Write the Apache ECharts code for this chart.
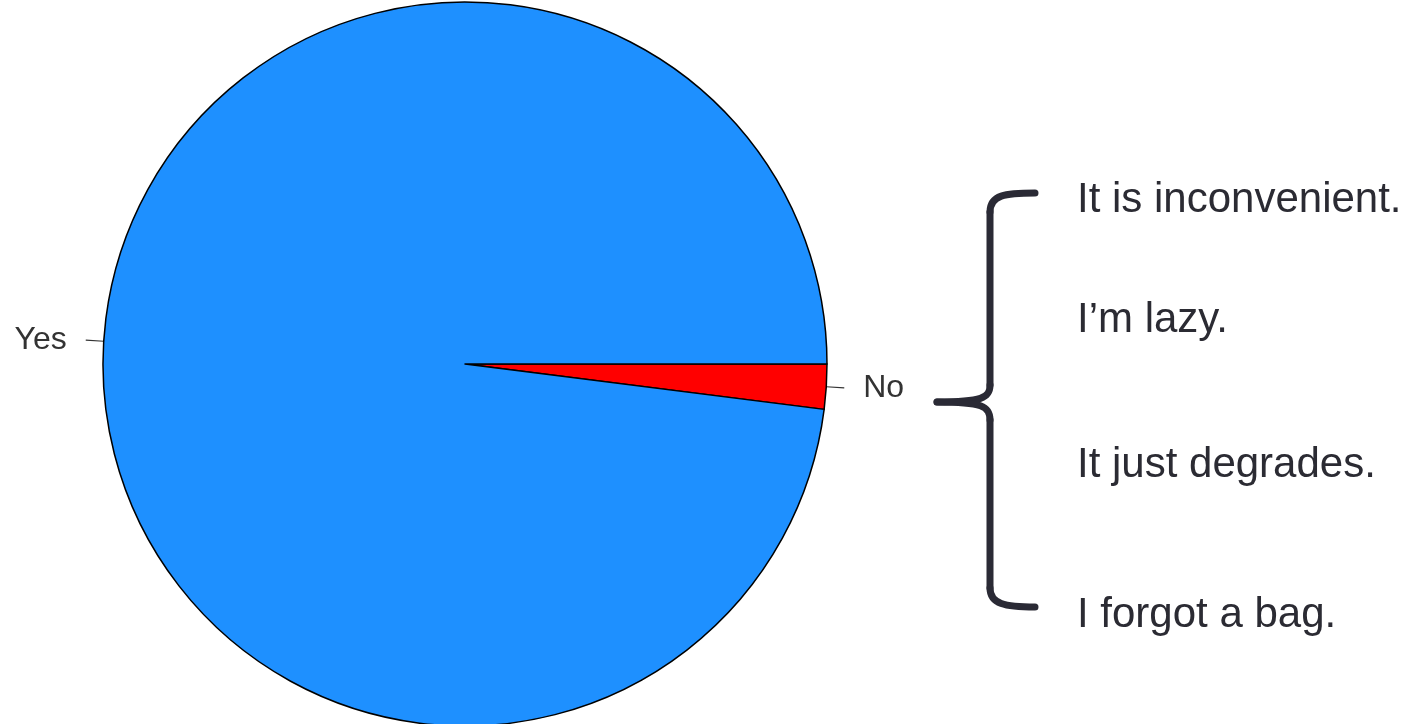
<!DOCTYPE html>
<html>
<head>
<meta charset="utf-8">
<script src="https://cdn.jsdelivr.net/npm/echarts@6/dist/echarts.min.js"></script>
<style>
html,body{margin:0;padding:0;background:#fff;}
#chart{width:1412px;height:724px;}
</style>
</head>
<body>
<div id="chart"></div>
<script>
// Data
var categories = ['No', 'Yes'];
var values = [2, 98];
var sliceColors = ['#ff0000', '#1e90ff'];
var reasons = ['It is inconvenient.', 'I\u2019m lazy.', 'It just degrades.', 'I forgot a bag.'];
var reasonBaselines = [213, 333, 478, 628];

var chart = echarts.init(document.getElementById('chart'), null, {renderer: 'canvas'});

var pieData = categories.map(function (c, i) {
  return {name: c, value: values[i], itemStyle: {color: sliceColors[i]}};
});

var braceStyle = {fill: 'none', stroke: '#2a2a35', lineWidth: 7, lineCap: 'round'};
var graphics = [
  {type: 'bezierCurve', shape: {x1: 1035, y1: 193, cpx1: 1005, cpy1: 193, cpx2: 990, cpy2: 195, x2: 990, y2: 212}, style: braceStyle},
  {type: 'line', shape: {x1: 990, y1: 212, x2: 990, y2: 385}, style: braceStyle},
  {type: 'bezierCurve', shape: {x1: 990, y1: 385, cpx1: 990, cpy1: 398, cpx2: 982, cpy2: 402, x2: 937, y2: 402}, style: braceStyle},
  {type: 'bezierCurve', shape: {x1: 937, y1: 402, cpx1: 982, cpy1: 402, cpx2: 990, cpy2: 406, x2: 990, y2: 420}, style: braceStyle},
  {type: 'line', shape: {x1: 990, y1: 420, x2: 990, y2: 588}, style: braceStyle},
  {type: 'bezierCurve', shape: {x1: 990, y1: 588, cpx1: 990, cpy1: 604, cpx2: 1005, cpy2: 607, x2: 1035, y2: 607}, style: braceStyle}
];
reasons.forEach(function (r, i) {
  graphics.push({
    type: 'text',
    x: 1077,
    y: reasonBaselines[i] - 34,
    style: {
      text: r,
      font: '42px "Liberation Sans", Arial, sans-serif',
      fill: '#2b2b33'
    }
  });
});

chart.setOption({
  animation: false,
  backgroundColor: '#ffffff',
  series: [{
    type: 'pie',
    center: [465, 364],
    radius: [0, 362],
    startAngle: 0,
    clockwise: true,
    data: pieData,
    itemStyle: {borderColor: '#000', borderWidth: 1.5},
    label: {
      show: true,
      position: 'outside',
      formatter: '{b}',
      fontFamily: '"Liberation Sans", Arial, sans-serif',
      fontSize: 32,
      color: '#333333',
      distanceToLabelLine: 19
    },
    labelLine: {
      show: true,
      length: 18,
      length2: 0,
      lineStyle: {color: '#333333', width: 1.2}
    },
    emphasis: {disabled: true}
  }],
  graphic: graphics
});
</script>
</body>
</html>
